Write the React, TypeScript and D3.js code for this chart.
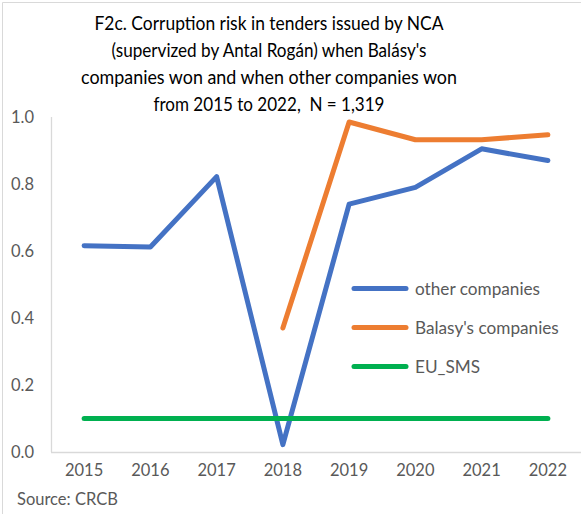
import React from "react";
import * as d3 from "d3";

const years = ["2015", "2016", "2017", "2018", "2019", "2020", "2021", "2022"];
const otherCompanies: (number | null)[] = [0.616, 0.612, 0.822, 0.022, 0.74, 0.79, 0.905, 0.87];
const balasyCompanies: (number | null)[] = [null, null, null, 0.37, 0.985, 0.932, 0.932, 0.947];
const euSms: (number | null)[] = [0.1, 0.1, 0.1, 0.1, 0.1, 0.1, 0.1, 0.1];
const yTicks = [0, 0.2, 0.4, 0.6, 0.8, 1.0];
const titleLines = [
  "F2c. Corruption risk in tenders issued by NCA",
  "(supervized by Antal Rogán) when Balásy's",
  "companies won and when other companies won",
  "from 2015 to 2022,  N = 1,319",
];
const titleWidths = [349, 315, 376, 231];
const legendLabels = ["other companies", "Balasy's companies", "EU_SMS"];
const colors = ["#4472C4", "#ED7D31", "#00B050"];

const W = 581;
const H = 514;
const FONT = "Lato, 'Open Sans', 'DejaVu Sans', sans-serif";

export default function App() {
  const left = 51;
  const right = 581;
  const top = 117;
  const bottom = 452;
  const x = d3.scaleBand().domain(years).range([left, right]);
  const y = d3.scaleLinear().domain([0, 1]).range([bottom, top]);
  const cx = (yr: string) => (x(yr) as number) + x.bandwidth() / 2;
  const line = d3
    .line<number | null>()
    .defined((d) => d != null)
    .x((_, i) => cx(years[i]))
    .y((d) => y(d as number));
  const series = [otherCompanies, balasyCompanies, euSms];
  const legendY = [288.5, 327.5, 366.5];

  return (
    <svg
      width={W}
      height={H}
      style={{ position: "absolute", left: 0, top: 0, background: "#fff" }}
      fontFamily={FONT}
    >
      <rect x={0} y={0} width={W} height={H} fill="#fff" />
      <line x1={2.5} y1={2.5} x2={W} y2={2.5} stroke="#d9d9d9" strokeWidth={1} />
      <line x1={2.5} y1={2.5} x2={2.5} y2={H} stroke="#d9d9d9" strokeWidth={1} />
      {titleLines.map((t, i) => (
        <text
          key={i}
          x={269}
          y={30 + i * 27}
          textAnchor="middle"
          fontSize={18.5}
          fill="#000"
          textLength={titleWidths[i]}
          lengthAdjust="spacingAndGlyphs"
          style={{ whiteSpace: "pre" }}
        >
          {t}
        </text>
      ))}
      <line x1={left + 0.5} y1={top} x2={left + 0.5} y2={bottom} stroke="#d9d9d9" strokeWidth={1.3} />
      <line x1={left} y1={bottom + 0.5} x2={right} y2={bottom + 0.5} stroke="#d9d9d9" strokeWidth={1.3} />
      {yTicks.map((t) => (
        <text key={t} x={34} y={y(t)} dy="0.35em" textAnchor="end" fontSize={16.5} fill="#595959">
          {t.toFixed(1)}
        </text>
      ))}
      {years.map((yr) => (
        <text key={yr} x={cx(yr)} y={476} textAnchor="middle" fontSize={16.5} fill="#595959">
          {yr}
        </text>
      ))}
      {series.map((s, i) => (
        <path
          key={i}
          d={line(s) || ""}
          fill="none"
          stroke={colors[i]}
          strokeWidth={5}
          strokeLinecap="round"
          strokeLinejoin="round"
        />
      ))}
      {legendLabels.map((l, i) => (
        <g key={l}>
          <line
            x1={354}
            x2={406}
            y1={legendY[i]}
            y2={legendY[i]}
            stroke={colors[i]}
            strokeWidth={5}
            strokeLinecap="round"
          />
          <text x={415} y={legendY[i]} dy="0.35em" fontSize={17.2} fill="#595959">
            {l}
          </text>
        </g>
      ))}
      <text x={17} y={505} fontSize={16.5} fill="#595959">
        Source: CRCB
      </text>
    </svg>
  );
}
